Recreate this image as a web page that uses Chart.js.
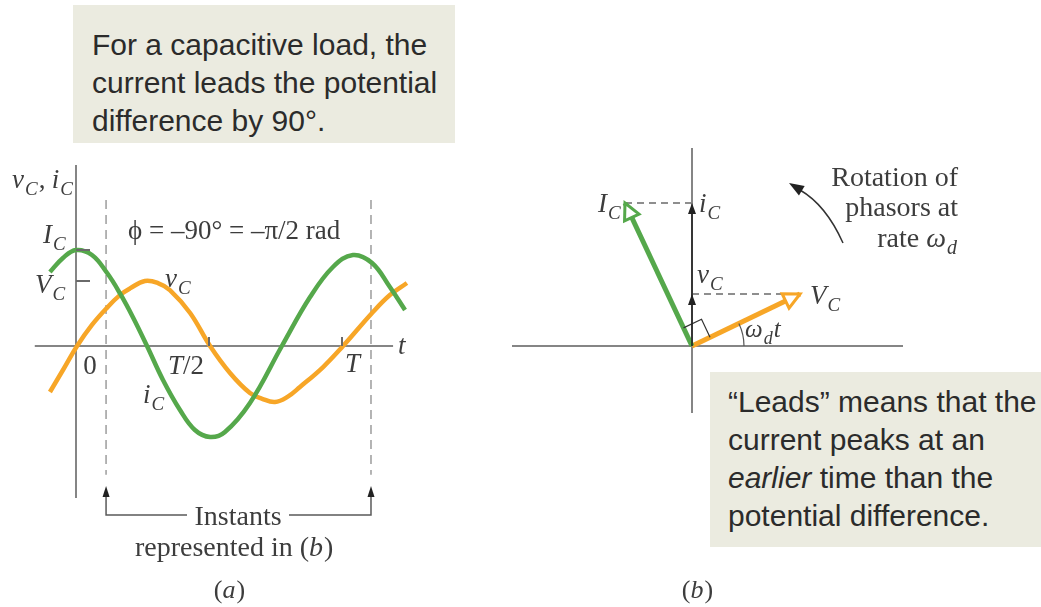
<!DOCTYPE html>
<html><head><meta charset="utf-8">
<script src="https://cdn.jsdelivr.net/npm/chart.js@4/dist/chart.umd.min.js"></script>
<style>
html,body{margin:0;padding:0;background:#fff;}
#wrap{position:relative;width:1041px;height:607px;overflow:hidden;}
#wrap canvas{position:absolute;left:0;top:0;}
.box{position:absolute;background:#ebebe0;color:#2b2b2b;font-family:"Liberation Sans",Arial,sans-serif;font-size:30px;line-height:38px;white-space:nowrap;}
</style></head><body>
<div id="wrap">
<canvas id="c" width="1041" height="607"></canvas>
<div class="box" style="left:73px;top:5px;width:363px;height:117px;padding:21px 0 0 19px;">For a capacitive load, the<br>current leads the potential<br>difference by 90°.</div>
<div class="box" style="left:710px;top:372px;width:313px;height:164px;padding:11px 0 0 18px;">“Leads” means that the<br>current peaks at an<br><i>earlier</i> time than the<br>potential difference.</div>
</div>
<script>
// ---------- data (panel a: t in units of the period T, values in units of I_C) ----------
const periodTicks = [0, 0.5, 1];
const periodTickLabels = ["0", "T/2", "T"];
const amplitudeTicks = [1.0, 0.677];          // I_C, V_C
const amplitudeTickLabels = ["I", "V"];
const instants = [0.113, 1.109];              // instants represented in (b)

const tCurrent = [-0.098,-0.049,0,0.060,0.117,0.165,0.214,0.267,0.327,0.391,0.447,0.504,0.560,0.654,0.774,0.880,0.966,1.041,1.113,1.180,1.237];
const iC       = [0.771,0.917,1.0,0.948,0.76,0.55,0.30,0,-0.354,-0.667,-0.875,-0.948,-0.896,-0.594,0,0.510,0.823,0.948,0.865,0.615,0.375];

const tVoltage = [-0.098,-0.049,0.004,0.060,0.117,0.165,0.203,0.259,0.308,0.353,0.429,0.504,0.579,0.654,0.700,0.748,0.795,0.842,0.929,1.004,1.113,1.180,1.244];
const vC       = [-0.479,-0.25,0,0.22,0.40,0.53,0.60,0.677,0.656,0.583,0.344,0,-0.281,-0.490,-0.55,-0.583,-0.53,-0.427,-0.219,0,0.344,0.531,0.656];

// ---------- data (panel b: phasor components) ----------
const phasorIC = [-0.67, 1.43];
const phasorVC = [1.08, 0.52];

const GREEN = '#55a84b', ORANGE = '#f7a627', AXIS = '#858585', TXT = '#3d3d3d';
const SERIF = '"Liberation Serif","Times New Roman",serif';

function pts(xs, ys){ return xs.map((x,i)=>({x:x, y:ys[i]})); }
function seg(x0,y0,x1,y1){ return [{x:x0,y:y0},{x:x1,y:y1}]; }

const base = {showLine:true, pointRadius:0, pointHoverRadius:0, fill:false, clip:false};
const A = {xAxisID:'x', yAxisID:'y'}, B = {xAxisID:'xb', yAxisID:'yb'};

const datasets = [
  Object.assign({label:'i_C', data:pts(tCurrent,iC), borderColor:GREEN, borderWidth:4.5, tension:0.4}, base, A),
  Object.assign({label:'v_C', data:pts(tVoltage,vC), borderColor:ORANGE, borderWidth:4.5, tension:0.4}, base, A),
  Object.assign({label:'I_C phasor', data:seg(0,0,phasorIC[0],phasorIC[1]), borderColor:GREEN, borderWidth:5}, base, B),
  Object.assign({label:'V_C phasor', data:seg(0,0,phasorVC[0],phasorVC[1]), borderColor:ORANGE, borderWidth:5}, base, B),
  Object.assign({label:'t axis', data:seg(-0.155,0,1.192,0), borderColor:AXIS, borderWidth:2}, base, A),
  Object.assign({label:'v axis', data:seg(0,1.885,0,-1.583), borderColor:AXIS, borderWidth:2}, base, A),
  Object.assign({label:'instant 1', data:seg(instants[0],1.52,instants[0],-1.34), borderColor:'#9c9c9c', borderWidth:1.5, borderDash:[9,6]}, base, A),
  Object.assign({label:'instant 2', data:seg(instants[1],1.52,instants[1],-1.34), borderColor:'#9c9c9c', borderWidth:1.5, borderDash:[9,6]}, base, A),
  Object.assign({label:'b horizontal', data:seg(-1.80,0,2.11,0), borderColor:AXIS, borderWidth:2}, base, B),
  Object.assign({label:'b vertical', data:seg(0,1.98,0,-0.67), borderColor:AXIS, borderWidth:2}, base, B),
  Object.assign({label:'iC proj', data:seg(phasorIC[0],phasorIC[1],0,phasorIC[1]), borderColor:'#6a6a6a', borderWidth:1.5, borderDash:[7,5]}, base, B),
  Object.assign({label:'vC proj', data:seg(0,phasorVC[1],phasorVC[0],phasorVC[1]), borderColor:'#6a6a6a', borderWidth:1.5, borderDash:[7,5]}, base, B)
];

function sym(ctx, x, y, main, sub, size){
  ctx.font = 'italic ' + size + 'px ' + SERIF;
  ctx.fillText(main, x, y);
  let w = ctx.measureText(main).width;
  if (sub){
    const s = Math.round(size*0.7);
    ctx.font = 'italic ' + s + 'px ' + SERIF;
    ctx.fillText(sub, x + w + 1, y + size*0.26);
    w += 1 + ctx.measureText(sub).width;
  }
  return w;
}
function filledHead(ctx, x0,y0,x1,y1, L, W, color){
  const a = Math.atan2(y1-y0, x1-x0);
  const bx = x1 - L*Math.cos(a), by = y1 - L*Math.sin(a);
  const px = -Math.sin(a), py = Math.cos(a);
  ctx.beginPath(); ctx.moveTo(x1,y1); ctx.lineTo(bx+W*px,by+W*py); ctx.lineTo(bx-W*px,by-W*py); ctx.closePath();
  ctx.fillStyle = color; ctx.fill();
}
function openHead(ctx, x0,y0,x1,y1, color){
  const a = Math.atan2(y1-y0, x1-x0), L = 16, W = 8;
  const bx = x1 - L*Math.cos(a), by = y1 - L*Math.sin(a);
  const px = -Math.sin(a), py = Math.cos(a);
  ctx.beginPath(); ctx.moveTo(x1,y1); ctx.lineTo(bx+W*px,by+W*py); ctx.lineTo(bx-W*px,by-W*py); ctx.closePath();
  ctx.fillStyle = '#fff'; ctx.fill();
  ctx.lineWidth = 3; ctx.lineJoin = 'miter'; ctx.strokeStyle = color; ctx.stroke();
}

const decor = {
  id:'decor',
  afterDatasetsDraw(chart){
    const ctx = chart.ctx, s = chart.scales;
    const X = v => s.x.getPixelForValue(v), Y = v => s.y.getPixelForValue(v);
    const XB = v => s.xb.getPixelForValue(v), YB = v => s.yb.getPixelForValue(v);
    ctx.save();
    ctx.fillStyle = TXT; ctx.strokeStyle = AXIS; ctx.textBaseline = 'alphabetic';

    // ---- panel a ticks ----
    ctx.lineWidth = 2; ctx.strokeStyle = '#6a6a6a';
    amplitudeTicks.forEach(v => { ctx.beginPath(); ctx.moveTo(X(0), Y(v)); ctx.lineTo(X(0)+14, Y(v)); ctx.stroke(); });
    periodTicks.slice(1).forEach(v => { ctx.beginPath(); ctx.moveTo(X(v), Y(0)); ctx.lineTo(X(v), Y(0)-9); ctx.stroke(); });

    // tick labels
    ctx.fillStyle = TXT;
    ctx.font = '27px ' + SERIF; ctx.textAlign = 'center';
    ctx.fillText(periodTickLabels[0], X(periodTicks[0]) + 14, Y(0) + 28);
    ctx.textAlign = 'left';
    let w = sym(ctx, X(periodTicks[1]) - 41, Y(0) + 28, 'T', null, 27);
    ctx.font = '27px ' + SERIF; ctx.fillText('/2', X(periodTicks[1]) - 41 + w, Y(0) + 28);
    sym(ctx, X(periodTicks[2]) + 3, Y(0) + 26, 'T', null, 27);
    sym(ctx, X(1.192) + 5, Y(0) + 8, 't', null, 27);
    sym(ctx, X(0) - 33, Y(amplitudeTicks[0]) - 7, amplitudeTickLabels[0], 'C', 27);
    sym(ctx, X(0) - 41, Y(amplitudeTicks[1]) + 12, amplitudeTickLabels[1], 'C', 27);

    // axis title
    w = sym(ctx, 12, 188, 'v', 'C', 27);
    ctx.font = '27px ' + SERIF; ctx.fillText(',', 12 + w + 1, 188);
    sym(ctx, 12 + w + 14, 188, 'i', 'C', 27);

    // curve labels and phase text
    sym(ctx, 165, 287, 'v', 'C', 27);
    sym(ctx, 143, 403, 'i', 'C', 27);
    ctx.font = '27px ' + SERIF; ctx.fillText('ϕ = –90° = –π/2 rad', 128, 239);

    // bracket for instants
    const yb = 515, ytip = 486;
    ctx.strokeStyle = '#5a5a5a'; ctx.lineWidth = 1.5;
    ctx.beginPath();
    ctx.moveTo(X(instants[0]), ytip + 8); ctx.lineTo(X(instants[0]), yb); ctx.lineTo(187, yb);
    ctx.moveTo(289, yb); ctx.lineTo(X(instants[1]), yb); ctx.lineTo(X(instants[1]), ytip + 8);
    ctx.stroke();
    filledHead(ctx, X(instants[0]), yb, X(instants[0]), ytip, 11, 3.5, '#222');
    filledHead(ctx, X(instants[1]), yb, X(instants[1]), ytip, 11, 3.5, '#222');
    ctx.fillStyle = TXT; ctx.textAlign = 'center'; ctx.font = '28px ' + SERIF;
    ctx.fillText('Instants', 238, 525);
    ctx.fillText('represented in (', 222, 556);
    const rw = ctx.measureText('represented in (').width;
    ctx.textAlign = 'left';
    ctx.font = 'italic 28px ' + SERIF; ctx.fillText('b', 222 + rw/2, 556);
    const bw = ctx.measureText('b').width;
    ctx.font = '28px ' + SERIF; ctx.fillText(')', 222 + rw/2 + bw + 1, 556);

    // panel captions
    function caption(cx, letter){
      ctx.font = '26px ' + SERIF; ctx.textAlign = 'left';
      const pw = ctx.measureText('(').width;
      ctx.font = 'italic 26px ' + SERIF; const lw = ctx.measureText(letter).width;
      const x0 = cx - (2*pw + lw)/2;
      ctx.font = '26px ' + SERIF; ctx.fillText('(', x0, 598);
      ctx.font = 'italic 26px ' + SERIF; ctx.fillText(letter, x0 + pw, 598);
      ctx.font = '26px ' + SERIF; ctx.fillText(')', x0 + pw + lw + 1, 598);
    }
    caption(229, 'a'); caption(697, 'b');

    // ---- panel b ----
    const ox = XB(0), oy = YB(0);
    const ix = XB(phasorIC[0]), iy = YB(phasorIC[1]);
    const vx = XB(phasorVC[0]), vy = YB(phasorVC[1]);

    // right-angle marker
    const ua = Math.atan2(vy-oy, vx-ox), wa = Math.atan2(iy-oy, ix-ox), r = 20;
    ctx.strokeStyle = '#333'; ctx.lineWidth = 1.2;
    ctx.beginPath();
    ctx.moveTo(ox + r*Math.cos(ua), oy + r*Math.sin(ua));
    ctx.lineTo(ox + r*Math.cos(ua) + r*Math.cos(wa), oy + r*Math.sin(ua) + r*Math.sin(wa));
    ctx.lineTo(ox + r*Math.cos(wa), oy + r*Math.sin(wa));
    ctx.stroke();

    // angle arc
    ctx.strokeStyle = '#555'; ctx.lineWidth = 1.2;
    ctx.beginPath(); ctx.arc(ox, oy, 52, ua, 0); ctx.stroke();

    // projections along vertical axis
    ctx.strokeStyle = '#222'; ctx.lineWidth = 1.6;
    ctx.beginPath(); ctx.moveTo(ox, oy); ctx.lineTo(ox, iy + 6); ctx.stroke();
    filledHead(ctx, ox, oy, ox, iy, 11, 4, '#222');
    filledHead(ctx, ox, oy, ox, vy, 11, 4, '#222');

    // open arrow heads of phasors
    openHead(ctx, ox, oy, ix, iy, GREEN);
    openHead(ctx, ox, oy, vx, vy, ORANGE);

    // labels
    ctx.fillStyle = TXT; ctx.textAlign = 'left';
    sym(ctx, ix - 27, iy + 9, 'I', 'C', 27);
    sym(ctx, ox + 7, iy + 9, 'i', 'C', 27);
    sym(ctx, ox + 5, vy - 11, 'v', 'C', 27);
    sym(ctx, vx + 10, vy + 10, 'V', 'C', 27);
    w = sym(ctx, ox + 53, oy - 9, 'ω', 'd', 25);
    sym(ctx, ox + 53 + w + 1, oy - 9, 't', null, 25);

    // rotation note
    ctx.font = '28px ' + SERIF; ctx.textAlign = 'right';
    ctx.fillText('Rotation of', 958, 186);
    ctx.fillText('phasors at', 958, 216);
    ctx.textAlign = 'left';
    ctx.font = 'italic 28px ' + SERIF; const ow = ctx.measureText('ω').width;
    ctx.font = 'italic 20px ' + SERIF; const dw = ctx.measureText('d').width;
    const rx = 957 - dw - 1 - ow;
    sym(ctx, rx, 247, 'ω', 'd', 28);
    ctx.font = '28px ' + SERIF; ctx.textAlign = 'right'; ctx.fillText('rate ', rx, 247);

    // curved rotation arrow
    ctx.strokeStyle = '#333'; ctx.lineWidth = 1.5;
    ctx.beginPath(); ctx.moveTo(843, 243); ctx.quadraticCurveTo(826, 205, 800, 190); ctx.stroke();
    filledHead(ctx, 812, 197, 789, 183, 15, 5.5, '#222');

    ctx.restore();
  }
};

new Chart(document.getElementById('c'), {
  type:'scatter',
  data:{datasets:datasets},
  options:{
    responsive:false, animation:false, events:[],
    layout:{padding:0},
    plugins:{legend:{display:false}, tooltip:{enabled:false}},
    scales:{
      x:{type:'linear', display:false, min:-76/266, max:965/266},
      y:{type:'linear', display:false, min:-261/96, max:346/96},
      xb:{type:'linear', display:false, min:-6.92, max:3.49},
      yb:{type:'linear', display:false, min:-2.61, max:3.46}
    }
  },
  plugins:[decor]
});
</script>
</body></html>
